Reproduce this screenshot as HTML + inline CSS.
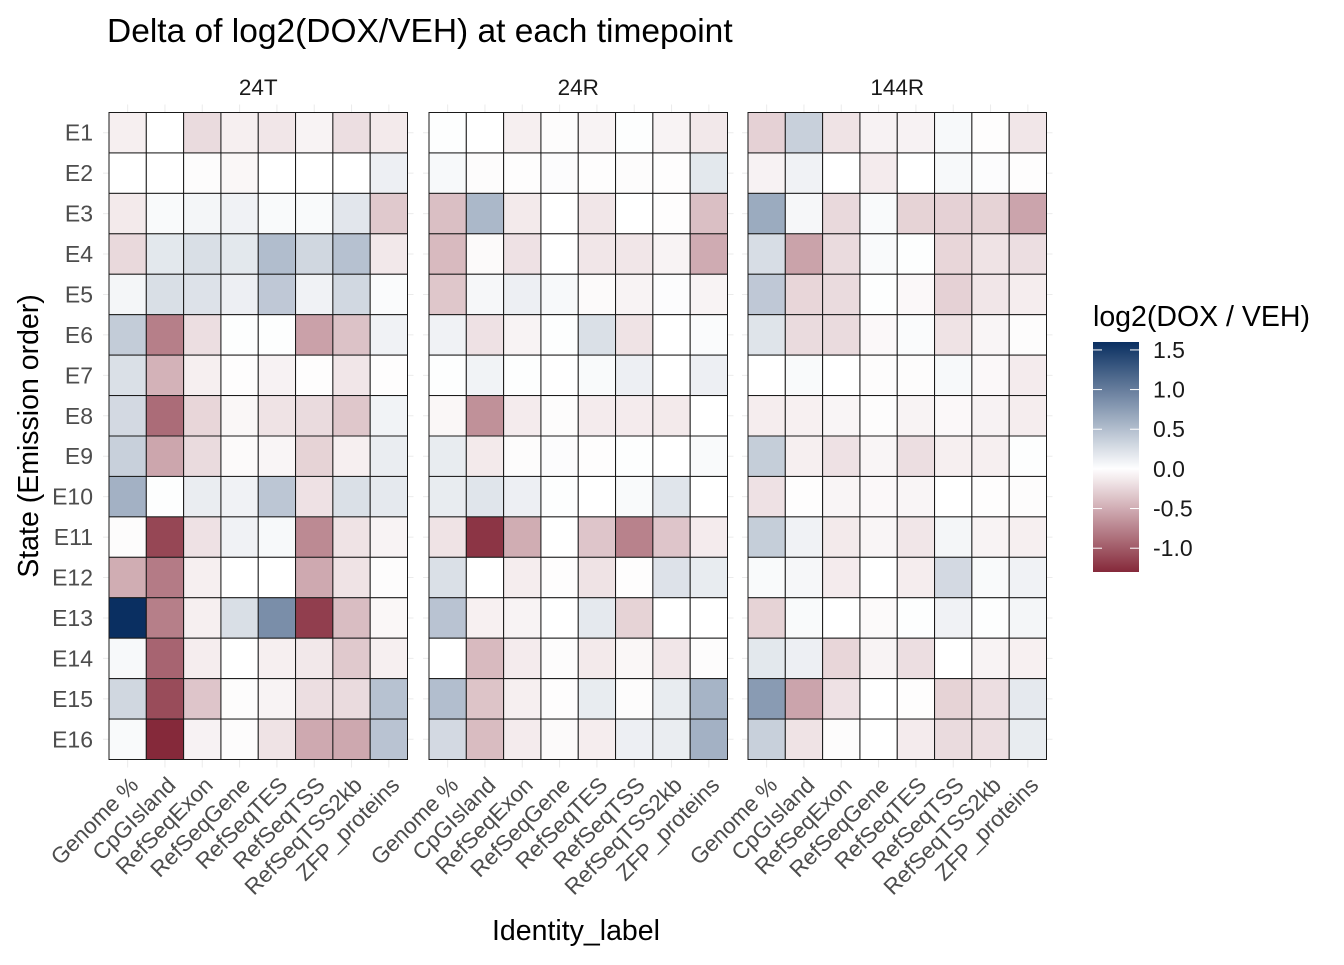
<!DOCTYPE html>
<html><head><meta charset="utf-8"><style>
html,body{margin:0;padding:0;background:#fff;}
svg text{font-family:"Liberation Sans",Arial,sans-serif;}
</style></head><body>
<svg id="chart" width="1344" height="960" xmlns="http://www.w3.org/2000/svg">
<defs><linearGradient id="lg" x1="0" y1="1" x2="0" y2="0"></linearGradient></defs>
<text x="107" y="42" font-size="33.5" fill="#000">Delta of log2(DOX/VEH) at each timepoint</text>
<text x="576" y="940" font-size="28.5" text-anchor="middle" fill="#000">Identity_label</text>
<text transform="translate(38,436) rotate(-90)" font-size="28.5" text-anchor="middle" fill="#000">State (Emission order)</text>
<g id="panels"></g>
<g id="legend">
<text x="1093" y="326" font-size="28.5" fill="#000">log2(DOX / VEH)</text>
</g>
</svg>
<script>
const facets = ["24T","24R","144R"];
const states = ["E1","E2","E3","E4","E5","E6","E7","E8","E9","E10","E11","E12","E13","E14","E15","E16"];
const features = ["Genome %","CpGIsland","RefSeqExon","RefSeqGene","RefSeqTES","RefSeqTSS","RefSeqTSS2kb","ZFP_proteins"];
const legendTicks = [1.5,1.0,0.5,0.0,-0.5,-1.0];
const vals24T = [
[-0.1,0,-0.22,-0.1,-0.15,-0.07,-0.2,-0.13],
[0,0,-0.02,-0.05,0,0,0,0.12],
[-0.13,0.04,0.07,0.1,0.04,0.04,0.19,-0.33],
[-0.23,0.18,0.25,0.18,0.51,0.31,0.48,-0.14],
[0.07,0.25,0.22,0.12,0.42,0.1,0.3,0.03],
[0.39,-0.78,-0.2,0.01,0.01,-0.57,-0.37,0.1],
[0.24,-0.47,-0.1,-0.01,-0.08,-0.01,-0.15,-0.01],
[0.29,-0.89,-0.25,-0.05,-0.17,-0.22,-0.34,0.09],
[0.36,-0.54,-0.22,-0.03,-0.06,-0.27,-0.1,0.14],
[0.6,0.01,0.14,0.1,0.44,-0.18,0.24,0.17],
[-0.02,-1.12,-0.18,0.1,0.05,-0.71,-0.17,-0.07],
[-0.5,-0.8,-0.1,0,0,-0.52,-0.17,-0.02],
[1.6,-0.78,-0.1,0.25,0.87,-1.17,-0.4,-0.05],
[0.05,-0.94,-0.11,0,-0.1,-0.14,-0.33,-0.1],
[0.31,-1.09,-0.35,-0.02,-0.07,-0.2,-0.22,0.47],
[0.04,-1.3,-0.08,-0.02,-0.17,-0.52,-0.53,0.46]];
const vals24R = [
[0.01,0,-0.1,-0.02,-0.07,0.01,-0.07,-0.14],
[0.05,-0.02,-0.01,0.02,-0.01,-0.02,-0.01,0.18],
[-0.39,0.55,-0.13,0,-0.15,0,-0.01,-0.39],
[-0.42,-0.03,-0.18,0,-0.15,-0.15,-0.07,-0.51],
[-0.34,0.06,0.12,0.05,-0.03,-0.07,0.02,-0.07],
[0.1,-0.18,-0.07,0.01,0.24,-0.17,0,0.03],
[0.01,0.09,0.01,0,0.04,0.12,0,0.12],
[-0.05,-0.67,-0.12,-0.02,-0.12,-0.12,-0.13,0],
[0.15,-0.13,-0.02,0.02,-0.01,0.01,0,0.04],
[0.15,0.2,0.12,0.01,0,0.04,0.2,0],
[-0.17,-1.23,-0.5,0,-0.35,-0.76,-0.35,-0.12],
[0.24,0,-0.11,-0.01,-0.17,-0.01,0.22,0.15],
[0.46,-0.09,-0.07,0,0.17,-0.27,0,0],
[0,-0.42,-0.12,-0.02,-0.13,-0.05,-0.15,-0.02],
[0.5,-0.36,-0.1,-0.01,0.15,-0.02,0.15,0.58],
[0.29,-0.41,-0.12,-0.03,-0.11,0.12,0.14,0.6]];
const vals144R = [
[-0.28,0.36,-0.17,-0.08,-0.08,0.05,-0.01,-0.15],
[-0.08,0.1,0,-0.12,0,0.05,0.02,-0.01],
[0.65,0.06,-0.23,0.04,-0.27,-0.28,-0.27,-0.55],
[0.26,-0.56,-0.22,0.04,0.01,-0.25,-0.17,-0.2],
[0.42,-0.25,-0.22,0.01,-0.04,-0.28,-0.15,-0.11],
[0.21,-0.22,-0.22,-0.04,0.03,-0.17,-0.06,-0.02],
[0,0.04,0,-0.02,-0.02,0.05,-0.04,-0.12],
[-0.11,-0.09,-0.06,-0.02,-0.07,-0.04,-0.08,-0.11],
[0.38,-0.1,-0.18,-0.06,-0.2,-0.1,-0.1,0.01],
[-0.18,-0.01,-0.06,-0.04,-0.06,0,-0.01,-0.02],
[0.38,0.1,-0.13,-0.06,-0.15,0.07,-0.07,-0.1],
[0.04,0.06,-0.12,0,-0.11,0.29,0.04,0.1],
[-0.27,0.04,0,-0.03,0.01,0.1,0.01,0.07],
[0.18,0.12,-0.25,-0.07,-0.2,0,-0.07,-0.09],
[0.77,-0.55,-0.18,0,-0.01,-0.27,-0.2,0.17],
[0.36,-0.17,-0.02,0,-0.12,-0.22,-0.2,0.15]];
const allVals = [vals24T, vals24R, vals144R];

const NS="http://www.w3.org/2000/svg";
const VMAX=1.6, VMIN=-1.3;
function color(v){
  let hi=[10,47,97], lo=[133,41,58], t, c;
  if(v>=0){t=Math.min(v/VMAX,1);c=hi;}else{t=Math.min(-v/-VMIN,1);c=lo;}
  const r=Math.round(255+(c[0]-255)*t),g=Math.round(255+(c[1]-255)*t),b=Math.round(255+(c[2]-255)*t);
  return `rgb(${r},${g},${b})`;
}
function mk(tag,attrs,parent){const e=document.createElementNS(NS,tag);for(const k in attrs)e.setAttribute(k,attrs[k]);parent.appendChild(e);return e;}
const panelX=[109,429,748], PW=298.5, PT=112.5, PB=759.5;
const cw=PW/features.length, rh=(PB-PT)/states.length;
function xScale(p,j){return panelX[p]+j*cw;}
function yScale(i){return PT+i*rh;}
const G=document.getElementById('panels');
facets.forEach((f,p)=>{
  const g=mk('g',{},G);
  
  
  for(let j=0;j<features.length;j++){const x=xScale(p,j)+cw/2;mk('line',{x1:x,x2:x,y1:PT-8,y2:PB+8,stroke:'#ebebeb','stroke-width':1},g);}
  for(let i=0;i<states.length;i++){const y=yScale(i)+rh/2;mk('line',{x1:panelX[p]-6,x2:panelX[p]+PW+6,y1:y,y2:y,stroke:'#ebebeb','stroke-width':1},g);}
  const st=mk('text',{x:panelX[p]+PW/2,y:95,'font-size':22.5,'text-anchor':'middle',fill:'#1a1a1a'},g);
  st.textContent=f;
  
  
  const vals=allVals[p];
  states.forEach((s,i)=>{features.forEach((ft,j)=>{
    const r=mk('rect',{x:xScale(p,j),y:yScale(i),width:cw,height:rh,fill:color(vals[i][j]),stroke:'#1a1a1a','stroke-width':1},g);
    
    
  });});
  features.forEach((ft,j)=>{
    const x=xScale(p,j)+cw/2+12, y=PB+27;
    const t=mk('text',{transform:`translate(${x},${y}) rotate(-45)`,'font-size':22.5,'text-anchor':'end',fill:'#4d4d4d'},g);
    t.textContent=ft;
    
    
  });
  if(p===0){states.forEach((s,i)=>{
    const t=mk('text',{x:93,y:yScale(i)+rh/2+8,'font-size':23,'text-anchor':'end',fill:'#4d4d4d'},g);
    t.textContent=s;
    
    
  });}
});
const lg=document.getElementById('lg');
for(let k=0;k<=20;k++){const v=VMIN+(VMAX-VMIN)*k/20;const s=document.createElementNS(NS,'stop');s.setAttribute('offset',(k/20*100)+'%');s.setAttribute('stop-color',color(v));lg.appendChild(s);}
const L=document.getElementById('legend');
const LT=342, LB=572, LX=1093, LW=46;
function ly(v){return LB-(v-VMIN)/(VMAX-VMIN)*(LB-LT);}
const bar=mk('rect',{x:LX,y:LT,width:LW,height:LB-LT,fill:'url(#lg)'},L);


legendTicks.forEach(v=>{
  const y=ly(v);
  mk('line',{x1:LX,x2:LX+9,y1:y,y2:y,stroke:'#fff','stroke-width':1},L);
  mk('line',{x1:LX+LW-9,x2:LX+LW,y1:y,y2:y,stroke:'#fff','stroke-width':1},L);
  const t=mk('text',{x:1153,y:y+8,'font-size':23,fill:'#1a1a1a'},L);
  t.textContent=v.toFixed(1);
  
  
});
</script>
</body></html>
